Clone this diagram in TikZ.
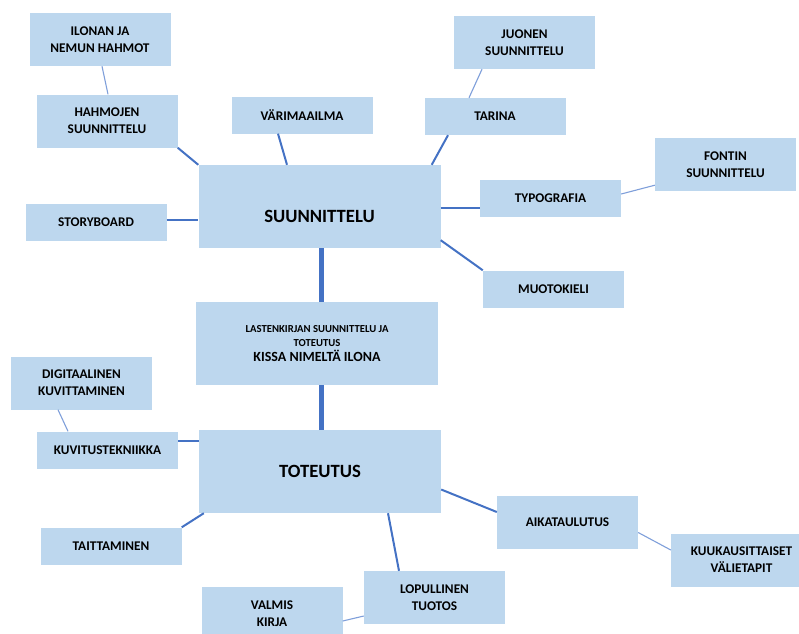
\documentclass[tikz,border=0pt]{standalone}
\usepackage{fontspec}
\setmainfont{Carlito}
\usetikzlibrary{positioning}

\definecolor{boxblue}{HTML}{BDD7EE}
\definecolor{linkblue}{HTML}{4472C4}
\definecolor{twigblue}{HTML}{7F9FDA}

\tikzstyle{box}=[fill=boxblue, inner sep=0pt, minimum width=141pt, minimum height=37pt, align=center, font=\fontsize{13.3}{16.8}\selectfont\bfseries]
\tikzstyle{tallbox}=[box, minimum height=53pt]
\tikzstyle{bigbox}=[box, minimum width=242pt, minimum height=83pt, font=\fontsize{18.7}{22}\selectfont\bfseries]
\tikzstyle{trunk}=[linkblue, line width=5pt]
\tikzstyle{branch}=[linkblue, line width=2pt]
\tikzstyle{twig}=[twigblue, line width=1.1pt]

\begin{document}
\begin{tikzpicture}[x=1pt, y=-1pt]
  \useasboundingbox (0,0) rectangle (799,633);

  % main boxes
  \node[bigbox, text height=32pt, text depth=0pt] (suunnittelu) at (319.5,206.5) {SUUNNITTELU};
  \node[bigbox, font=\fontsize{10.7}{14}\selectfont\bfseries] (otsikko) at (317,343.5)
    {LASTENKIRJAN SUUNNITTELU JA\\TOTEUTUS\\[1pt]{\fontsize{14}{16}\selectfont KISSA NIMELTÄ ILONA}};
  \node[bigbox] (toteutus) at (320,471.5) {TOTEUTUS};

  % planning side
  \node[tallbox] (ilonan) at (100,39.5) {ILONAN JA\\NEMUN HAHMOT};
  \node[tallbox] (hahmojen) at (107,121) {HAHMOJEN\\SUUNNITTELU};
  \node[box] (varimaailma) at (302,115) {VÄRIMAAILMA};
  \node[tallbox] (juonen) at (524.5,42.5) {JUONEN\\SUUNNITTELU};
  \node[box] (tarina) at (495,116.5) {TARINA};
  \node[tallbox] (fontin) at (725.5,164.5) {FONTIN\\SUUNNITTELU};
  \node[box] (typografia) at (550.5,198.5) {TYPOGRAFIA};
  \node[box] (muotokieli) at (553.5,289) {MUOTOKIELI};
  \node[box] (storyboard) at (96,222) {STORYBOARD};

  % implementation side
  \node[tallbox] (digitaalinen) at (81.5,383) {DIGITAALINEN\\KUVITTAMINEN};
  \node[box] (kuvitustekniikka) at (107.5,450) {KUVITUSTEKNIIKKA};
  \node[box] (taittaminen) at (111,546) {TAITTAMINEN};
  \node[tallbox] (aikataulutus) at (567.5,522.5) {AIKATAULUTUS};
  \node[tallbox] (kuukausittaiset) at (741.5,560) {KUUKAUSITTAISET\\VÄLIETAPIT};
  \node[tallbox] (lopullinen) at (434.5,597.5) {LOPULLINEN\\TUOTOS};
  \node[tallbox] (valmis) at (272,613.5) {VALMIS\\KIRJA};

  % connectors
  \draw[trunk] ([xshift=1.5pt]suunnittelu.south) -- ([xshift=1.5pt]suunnittelu.south |- otsikko.north);
  \draw[trunk] ([xshift=4pt]otsikko.south) -- ([xshift=4pt]otsikko.south |- toteutus.north);

  \draw[branch] (hahmojen.south east) -- (suunnittelu.north west);
  \draw[branch] ([xshift=-24pt]varimaailma.south) -- ([xshift=-32.5pt]suunnittelu.north);
  \draw[branch] ([xshift=-47pt]tarina.south) -- ([xshift=-9pt]suunnittelu.north east);
  \draw[branch] ([yshift=-1.5pt]suunnittelu.east) -- ([yshift=-1.5pt]suunnittelu.east -| typografia.west);
  \draw[branch] ([yshift=8pt]suunnittelu.south east) -- (muotokieli.north west);
  \draw[branch] ([yshift=2pt]storyboard.east) -- ([yshift=2pt]storyboard.east -| suunnittelu.west);

  \draw[twig] ([xshift=2pt]ilonan.south) -- ([xshift=1pt]hahmojen.north);
  \draw[twig] ([xshift=-42.5pt]juonen.south) -- ([xshift=-26pt]tarina.north);
  \draw[twig] ([yshift=6pt]fontin.south west) -- ([yshift=4.5pt]typografia.east);

  \draw[branch] ([yshift=9pt]kuvitustekniikka.east) -- ([yshift=9pt]kuvitustekniikka.east -| toteutus.west);
  \draw[branch] (taittaminen.north east) -- ([xshift=5pt]toteutus.south west);
  \draw[branch] ([yshift=-18pt]toteutus.east) -- ([yshift=10.5pt]aikataulutus.west);
  \draw[branch] ([xshift=68pt]toteutus.south) -- ([xshift=-35.5pt]lopullinen.north);

  \draw[twig] ([xshift=-23.5pt]digitaalinen.south) -- ([xshift=-39.5pt]kuvitustekniikka.north);
  \draw[twig] ([yshift=-10pt]aikataulutus.east) -- ([yshift=10pt]kuukausittaiset.west);
  \draw[twig] ([yshift=-7.5pt]valmis.east) -- ([yshift=-18.5pt]lopullinen.west);
\end{tikzpicture}
\end{document}
